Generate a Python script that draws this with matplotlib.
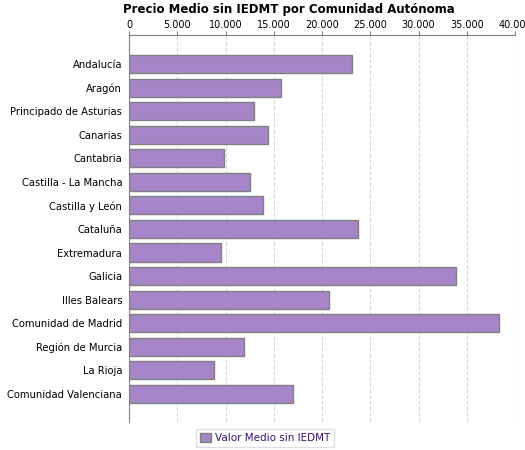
import matplotlib
matplotlib.use("Agg")
import matplotlib.pyplot as plt
from matplotlib.ticker import FuncFormatter, MultipleLocator

categories = ["Andalucía", "Aragón", "Principado de Asturias", "Canarias", "Cantabria",
              "Castilla - La Mancha", "Castilla y León", "Cataluña", "Extremadura", "Galicia",
              "Illes Balears", "Comunidad de Madrid", "Región de Murcia", "La Rioja",
              "Comunidad Valenciana"]
values = [23150, 15700, 12980, 14360, 9790, 12560, 13840, 23770, 9480, 33840,
          20690, 38300, 11870, 8750, 16960]

fig = plt.figure(figsize=(5.25, 4.5), dpi=100)
ax = fig.add_axes([0.246, 0.062, 0.735, 0.860])
y = list(range(len(categories)))
ax.barh(y, values, height=0.77, color="#a686c8", edgecolor="#808080", linewidth=1,
        label="Valor Medio sin IEDMT", zorder=3)
ax.set_ylim(len(categories) - 1 + 1.2, -1.23)
ax.set_xlim(0, 40000)
ax.set_yticks(y)
ax.set_yticklabels(categories, fontsize=7.2)
ax.xaxis.set_major_locator(MultipleLocator(5000))
ax.xaxis.set_major_formatter(FuncFormatter(lambda v, p: f"{int(v):,}".replace(",", ".")))
ax.xaxis.tick_top()
ax.tick_params(axis="x", labelsize=7, length=3, color="#808080", pad=1)
ax.tick_params(axis="y", length=0, pad=5)
ax.grid(axis="x", color="#d8d8d8", linestyle="--", linewidth=0.8, zorder=0)
for s in ["right", "bottom"]:
    ax.spines[s].set_visible(False)
for s in ["top", "left"]:
    ax.spines[s].set_color("#808080")
fig.text(0.235, 0.978, "Precio Medio sin IEDMT por Comunidad Autónoma", fontsize=8.5,
         fontweight="bold", ha="left", va="center")
leg = fig.legend(loc="center", bbox_to_anchor=(0.505, 0.027), fontsize=7.5, frameon=True,
                 fancybox=False, edgecolor="#d8d8d8", handlelength=1, handleheight=1,
                 borderpad=0.4, handletextpad=0.4)
for t in leg.get_texts():
    t.set_color("#3a1070")
fig.savefig("out.png", dpi=100)
